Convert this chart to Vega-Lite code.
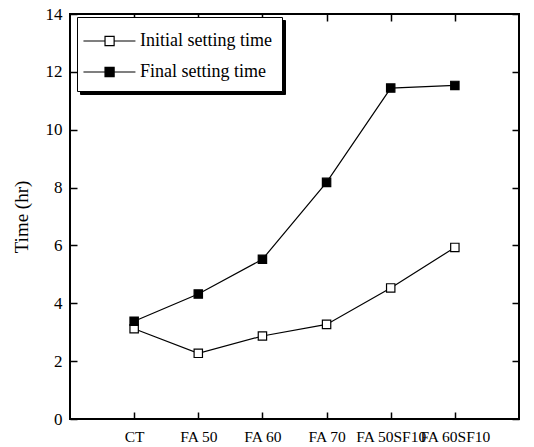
{
  "$schema": "https://vega.github.io/schema/vega-lite/v6.json",
  "width": 449,
  "height": 405,
  "autosize": "none",
  "padding": {"left": 70, "top": 14, "right": 15, "bottom": 28},
  "background": "white",
  "config": {
    "font": "Liberation Serif",
    "view": {"stroke": "black", "strokeWidth": 2},
    "axis": {
      "domain": false,
      "grid": false,
      "tickColor": "black",
      "tickSize": -7,
      "tickWidth": 1.5,
      "labelFont": "Liberation Serif",
      "labelFontSize": 17,
      "labelColor": "black",
      "titleFont": "Liberation Serif",
      "titleFontSize": 19,
      "titleFontWeight": "normal",
      "titleColor": "black"
    }
  },
  "data": {
    "values": [
      {"mix": "CT", "series": "Initial setting time", "time": 3.12},
      {"mix": "FA 50", "series": "Initial setting time", "time": 2.27},
      {"mix": "FA 60", "series": "Initial setting time", "time": 2.87},
      {"mix": "FA 70", "series": "Initial setting time", "time": 3.27},
      {"mix": "FA 50SF10", "series": "Initial setting time", "time": 4.53},
      {"mix": "FA 60SF10", "series": "Initial setting time", "time": 5.93},
      {"mix": "CT", "series": "Final setting time", "time": 3.38},
      {"mix": "FA 50", "series": "Final setting time", "time": 4.32},
      {"mix": "FA 60", "series": "Final setting time", "time": 5.52},
      {"mix": "FA 70", "series": "Final setting time", "time": 8.18},
      {"mix": "FA 50SF10", "series": "Final setting time", "time": 11.44},
      {"mix": "FA 60SF10", "series": "Final setting time", "time": 11.53}
    ]
  },
  "resolve": {"axis": {"x": "independent", "y": "independent"}},
  "layer": [
    {
      "mark": {"type": "line", "strokeWidth": 1.2},
      "encoding": {
        "x": {
          "field": "mix", "type": "nominal", "sort": null,
          "scale": {"type": "point", "padding": 1},
          "axis": {"title": null, "labelAngle": 0, "labelPadding": 17, "labelFontSize": 15.5}
        },
        "y": {
          "field": "time", "type": "quantitative",
          "scale": {"domain": [0, 14], "nice": false},
          "axis": {"title": "Time (hr)", "values": [0, 2, 4, 6, 8, 10, 12, 14], "labelPadding": 15, "titlePadding": 14}
        },
        "color": {
          "field": "series", "type": "nominal",
          "scale": {"range": ["black", "black"]},
          "legend": {
            "orient": "none", "legendX": 10, "legendY": 6, "zindex": 0,
            "title": null,
            "fillColor": "black", "strokeColor": "black",
            "padding": 10, "labelFontSize": 18, "labelFont": "Liberation Serif",
            "labelOpacity": 0, "symbolOpacity": 0,
            "symbolType": "M-1.35,0H0.31M1.01,0H2.65M0.31,-0.35H1.01V0.35H0.31Z",
            "symbolSize": 676, "rowPadding": 8, "labelOffset": 25
          }
        }
      }
    },
    {
      "mark": {"type": "point", "shape": "square", "size": 70, "filled": false, "stroke": "black", "strokeWidth": 1.2, "opacity": 1},
      "encoding": {
        "x": {
          "field": "mix", "type": "nominal", "sort": null,
          "scale": {"type": "point", "padding": 1},
          "axis": {"orient": "top", "title": null, "labels": false}
        },
        "y": {
          "field": "time", "type": "quantitative",
          "scale": {"domain": [0, 14], "nice": false},
          "axis": {"orient": "right", "title": null, "labels": false, "values": [0, 2, 4, 6, 8, 10, 12, 14]}
        },
        "fill": {
          "field": "series", "type": "nominal",
          "scale": {"domain": ["Initial setting time", "Final setting time"], "range": ["white", "black"]},
          "legend": {
            "orient": "none", "legendX": 7, "legendY": 3, "zindex": 1,
            "title": null,
            "fillColor": "white", "strokeColor": "black",
            "padding": 10, "labelFontSize": 18, "labelFont": "Liberation Serif", "labelColor": "black",
            "symbolType": "M-1.35,0H0.31M1.01,0H2.65M0.31,-0.35H1.01V0.35H0.31Z",
            "symbolSize": 676, "symbolStrokeColor": "black", "symbolStrokeWidth": 1.2,
            "rowPadding": 8, "labelOffset": 25
          }
        }
      }
    }
  ]
}
